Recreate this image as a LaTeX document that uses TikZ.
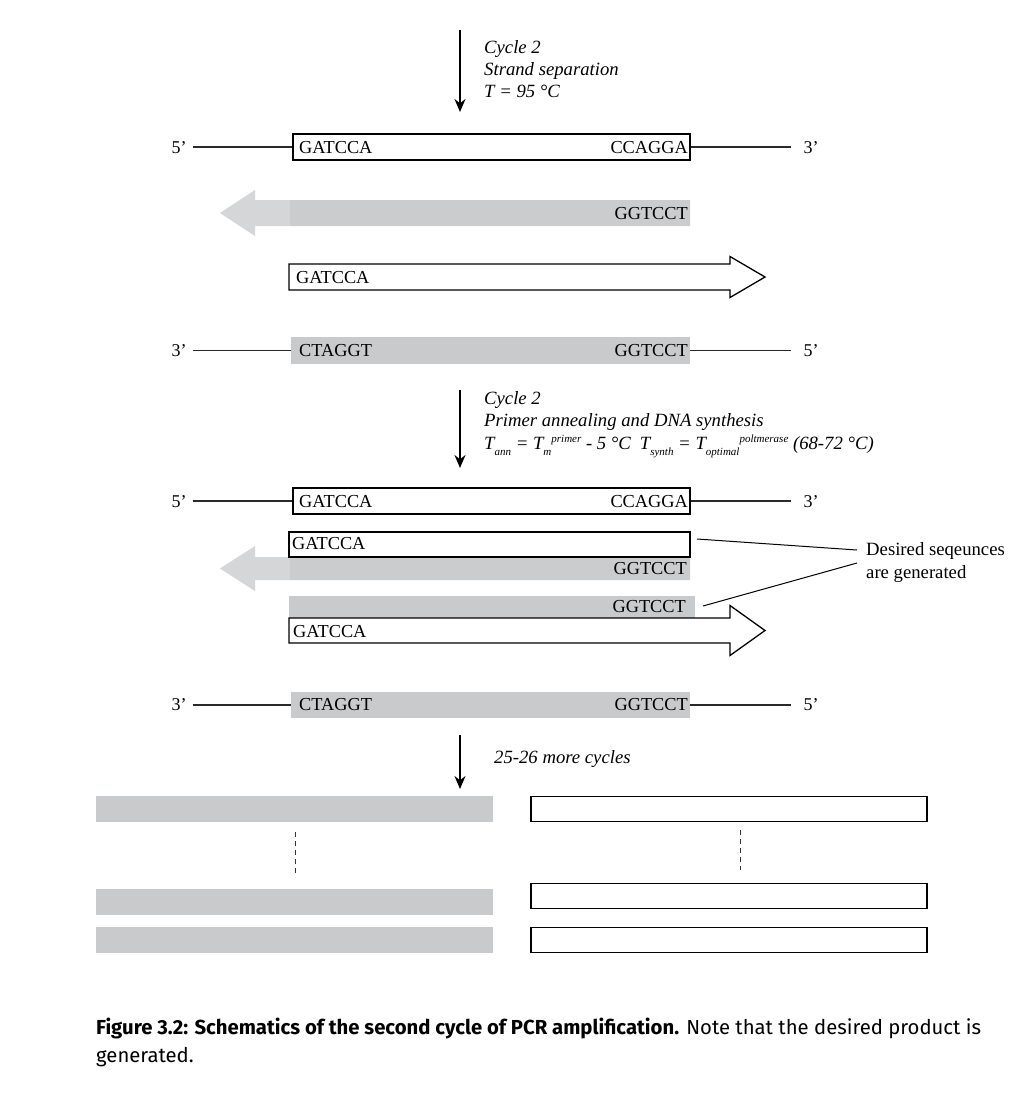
\documentclass[tikz,border=0pt]{standalone}
\usepackage{fontspec}
\setmainfont{Liberation Serif}
\newfontfamily\capfont{Fira Sans}
\usetikzlibrary{arrows.meta}
\definecolor{gfill}{HTML}{C9CACC}
\definecolor{garrow}{HTML}{D5D6D8}
\definecolor{strandc}{HTML}{2A2A2A}
\newcommand\lowtxt[1]{\raisebox{-6pt}{\fontsize{11}{11}\selectfont #1}}
\newcommand\hightxt[1]{\raisebox{7pt}{\fontsize{11}{11}\selectfont #1}}
\begin{document}
\begin{tikzpicture}[x=1pt,y=-1pt,
  seq/.style={font=\fontsize{18.3}{21}\selectfont, inner sep=0pt},
  lab/.style={font=\fontsize{18.7}{21}\selectfont\itshape, inner sep=0pt, anchor=base west},
  rlab/.style={font=\fontsize{18.7}{21}\selectfont, inner sep=0pt, anchor=base west},
  endl/.style={font=\fontsize{18}{21}\selectfont, inner sep=0pt, anchor=base},
  wbox/.style={draw=black, fill=white, line width=1.3pt, inner sep=0pt, rectangle},
  gbox/.style={fill=gfill, draw=none, inner sep=0pt, rectangle},
  strand/.style={line width=1.1pt, draw=strandc},
  down/.style={line width=1.3pt, -{Stealth[length=13pt,width=11pt]}},
  blockw/.style={draw=black, fill=white, line width=1.3pt, line join=miter},
  blockg/.style={fill=garrow, draw=none},
  dashv/.style={line width=0.9pt, dash pattern=on 5pt off 4pt, draw=black!80},
  callout/.style={line width=1pt, draw=black}
]
\useasboundingbox[fill=white] (0,0) rectangle (1024,1096);

% ---------- Arrow 1 and label ----------
\coordinate (a1s) at (460,30);
\coordinate (a1e) at (460,112);
\draw[down] (a1s) -- (a1e);
\node[lab] (l1a) at (484,53) {Cycle 2};
\node[lab] (l1b) at (484,75) {Strand separation};
\node[lab] (l1c) at (484,97) {T = 95 °C};

% ---------- Row 1 ----------
\node[endl] (e1l) at (179,153) {5’};
\node[endl] (e1r) at (811,153) {3’};
\node[wbox, minimum width=397pt, minimum height=26pt] (b1) at (491.5,147) {};
\draw[strand] ([xshift=6pt]e1l.east |- b1.west) -- (b1.west);
\draw[strand] (b1.east) -- ([xshift=-12pt]e1r.west |- b1.east);
\node[seq, anchor=base west] (s1a) at (299,153.5) {GATCCA};
\node[seq, anchor=base east] (s1b) at (688,153.5) {CCAGGA};

% ---------- Row 2: grey arrow ----------
\fill[blockg] (220,213) -- (255,190) -- (255,200) -- (690,200) -- (690,226) -- (255,226) -- (255,236) -- cycle;
\node[gbox, fill=gfill!80!garrow, minimum width=400pt, minimum height=26pt] (g2) at (490,213) {};
\node[seq, anchor=base east] (s2) at (688,219.5) {GGTCCT};

% ---------- Row 3: white arrow ----------
\draw[blockw] (289,264) -- (730,264) -- (730,256.5) -- (765,277) -- (730,297.5) -- (730,290) -- (289,290) -- cycle;
\node[seq, anchor=base west] (s3) at (296,283.5) {GATCCA};

% ---------- Row 4 ----------
\node[endl] (e4l) at (179,356) {3’};
\node[endl] (e4r) at (811,356) {5’};
\node[gbox, minimum width=399pt, minimum height=27pt] (g4) at (490.5,350.5) {};
\draw[strand] ([xshift=6pt]e4l.east |- g4.west) -- (g4.west);
\draw[strand] (g4.east) -- ([xshift=-12pt]e4r.west |- g4.east);
\node[seq, anchor=base west] (s4a) at (299,356.5) {CTAGGT};
\node[seq, anchor=base east] (s4b) at (688,356.5) {GGTCCT};

% ---------- Arrow 2 and label ----------
\coordinate (a2s) at (460,390);
\coordinate (a2e) at (460,468);
\draw[down] (a2s) -- (a2e);
\node[lab] (l2a) at (484,404) {Cycle 2};
\node[lab] (l2b) at (484,426) {Primer annealing and DNA synthesis};
\node[lab] (l2c) at (484,449) {T\lowtxt{ann} = T\lowtxt{m}\hightxt{primer} - 5 °C\hspace{9pt}T\lowtxt{synth} = T\lowtxt{optimal}\hightxt{poltmerase} (68-72 °C)};

% ---------- Row 5 ----------
\node[endl] (e5l) at (179,507) {5’};
\node[endl] (e5r) at (811,507) {3’};
\node[wbox, minimum width=397pt, minimum height=26pt] (b5) at (491.5,501) {};
\draw[strand] ([xshift=6pt]e5l.east |- b5.west) -- (b5.west);
\draw[strand] (b5.east) -- ([xshift=-12pt]e5r.west |- b5.east);
\node[seq, anchor=base west] (s5a) at (299,507.5) {GATCCA};
\node[seq, anchor=base east] (s5b) at (688,507.5) {CCAGGA};

% ---------- Row 6: grey arrow with new white strand ----------
\fill[blockg] (220,568.5) -- (255,546) -- (255,557) -- (690,557) -- (690,580) -- (255,580) -- (255,591) -- cycle;
\node[gbox, fill=gfill!80!garrow, minimum width=400pt, minimum height=23pt] (g6) at (490,568.5) {};
\node[seq, anchor=base east] (s6b) at (687,574.5) {GGTCCT};
\node[wbox, minimum width=401pt, minimum height=25pt] (b6) at (489.5,544.5) {};
\node[seq, anchor=base west] (s6a) at (292,549.5) {GATCCA};

% ---------- Row 7: new grey strand over white arrow ----------
\node[gbox, minimum width=406pt, minimum height=22pt] (g7) at (492,607) {};
\node[seq, anchor=base east] (s7b) at (686,612.5) {GGTCCT};
\draw[blockw] (289,618) -- (730,618) -- (730,605.5) -- (765,630.5) -- (730,655.5) -- (730,643) -- (289,643) -- cycle;
\node[seq, anchor=base west] (s7a) at (293,637.5) {GATCCA};

% ---------- Callout ----------
\node[rlab] (d1) at (866,555) {Desired seqeunces};
\node[rlab] (d2) at (866,578) {are generated};
\coordinate (c1) at (697,539);
\coordinate (c2) at (703,606);
\coordinate (c1e) at (857,550);
\coordinate (c2e) at (857,563);
\draw[callout] (c1) -- (c1e);
\draw[callout] (c2) -- (c2e);

% ---------- Row 8 ----------
\node[endl] (e8l) at (179,710) {3’};
\node[endl] (e8r) at (811,710) {5’};
\node[gbox, minimum width=399pt, minimum height=26pt] (g8) at (490.5,705) {};
\draw[strand] ([xshift=6pt]e8l.east |- g8.west) -- (g8.west);
\draw[strand] (g8.east) -- ([xshift=-12pt]e8r.west |- g8.east);
\node[seq, anchor=base west] (s8a) at (299,710.5) {CTAGGT};
\node[seq, anchor=base east] (s8b) at (688,710.5) {GGTCCT};

% ---------- Arrow 3 ----------
\coordinate (a3s) at (460,735);
\coordinate (a3e) at (460,789);
\draw[down] (a3s) -- (a3e);
\node[lab] (l3) at (494,763) {25-26 more cycles};

% ---------- Products ----------
\node[gbox, minimum width=397pt, minimum height=26pt] (p1) at (294.5,809) {};
\node[gbox, minimum width=397pt, minimum height=26pt] (p2) at (294.5,902) {};
\node[gbox, minimum width=397pt, minimum height=26pt] (p3) at (294.5,940) {};
\node[wbox, minimum width=396pt, minimum height=25pt] (q1) at (729,809) {};
\node[wbox, minimum width=396pt, minimum height=25pt] (q2) at (729,896) {};
\node[wbox, minimum width=396pt, minimum height=25pt] (q3) at (729,940) {};
\coordinate (d1s) at (295,832);
\coordinate (d1e) at (295,877);
\coordinate (d2s) at (740,830);
\coordinate (d2e) at (740,870);
\draw[dashv] (d1s) -- (d1e);
\draw[dashv] (d2s) -- (d2e);

% ---------- Caption ----------
\node[inner sep=0pt, anchor=base west, font=\capfont\fontsize{20.3}{24}\selectfont] (cap1) at (96,1034) {\textbf{Figure 3.2: Schematics of the second cycle of PCR amplification.} Note that the desired product is};
\node[inner sep=0pt, anchor=base west, font=\capfont\fontsize{20.3}{24}\selectfont] (cap2) at (96,1062) {generated.};
\end{tikzpicture}
\end{document}
